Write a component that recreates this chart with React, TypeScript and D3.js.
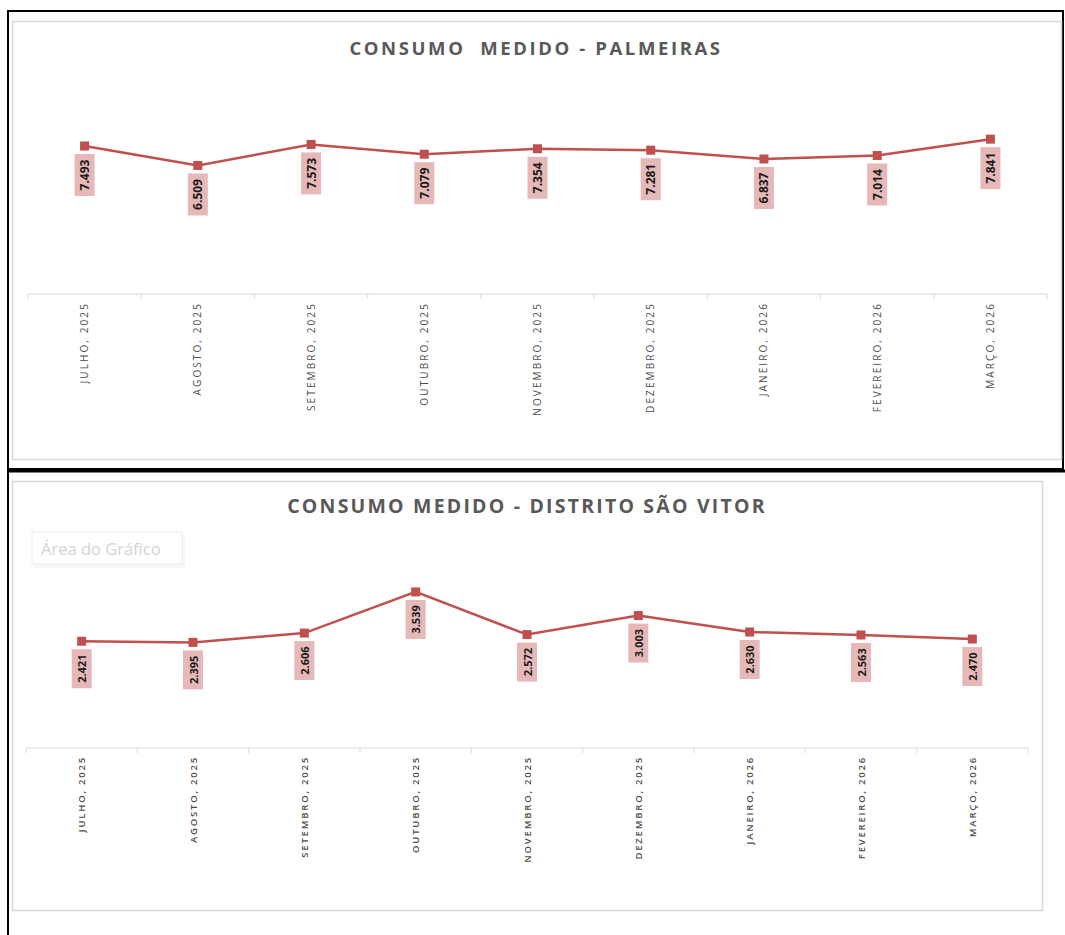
import React from "react";
import * as d3 from "d3";

const categories = [
  "JULHO, 2025",
  "AGOSTO, 2025",
  "SETEMBRO, 2025",
  "OUTUBRO, 2025",
  "NOVEMBRO, 2025",
  "DEZEMBRO, 2025",
  "JANEIRO, 2026",
  "FEVEREIRO, 2026",
  "MARÇO, 2026",
];

const palmeirasValues = [7493, 6509, 7573, 7079, 7354, 7281, 6837, 7014, 7841];
const saoVitorValues = [2421, 2395, 2606, 3539, 2572, 3003, 2630, 2563, 2470];

const titleTop = "CONSUMO  MEDIDO - PALMEIRAS";
const titleBottom = "CONSUMO MEDIDO - DISTRITO SÃO VITOR";

const locale = d3.formatLocale({ decimal: ",", thousands: ".", grouping: [3], currency: ["R$", ""] });
const fmt = locale.format(",d");

const LINE = "#c0504d";
const LABEL_BG = "#e6b9b8";

type PanelProps = {
  values: number[];
  x0: number;
  x1: number;
  yZero: number;
  yTop: number;
  yMax: number;
  labelFont: number;
  boxH: number;
  catFont: number;
  catSpacing: number;
  catWeight: number;
};

function Series({ values, x0, x1, yZero, yTop, yMax, labelFont, boxH, catFont, catSpacing, catWeight }: PanelProps) {
  const x = d3.scaleBand<string>().domain(categories).range([x0, x1]).padding(0);
  const y = d3.scaleLinear().domain([0, yMax]).range([yZero, yTop]);
  const cx = (c: string) => (x(c) as number) + x.bandwidth() / 2;
  const line = d3
    .line<number>()
    .x((_, i) => cx(categories[i]))
    .y((d) => y(d));
  const boundaries = categories.map((c) => x(c) as number).concat([x1]);
  return (
    <g>
      <line x1={x0} x2={x1} y1={yZero} y2={yZero} stroke="#d9d9d9" strokeWidth={1.2} />
      {boundaries.map((b, i) => (
        <line key={i} x1={b} x2={b} y1={yZero} y2={yZero + 5} stroke="#d9d9d9" strokeWidth={1} />
      ))}
      {categories.map((c) => (
        <text
          key={c}
          transform={`translate(${cx(c) + 3.5},${yZero + 8}) rotate(-90)`}
          textAnchor="end"
          fontFamily="'Open Sans', sans-serif"
          fontSize={catFont}
          fontWeight={catWeight}
          letterSpacing={catSpacing}
          fill="#4d4d4d"
        >
          {c}
        </text>
      ))}
      <path d={line(values) || ""} fill="none" stroke={LINE} strokeWidth={2.5} />
      {values.map((v, i) => {
        const px = cx(categories[i]);
        const py = y(v);
        return (
          <g key={i}>
            <rect x={px - 4.5} y={py - 4.5} width={9} height={9} fill={LINE} />
            <rect x={px - 10} y={py + 8} width={20} height={boxH} fill={LABEL_BG} />
            <text
              transform={`translate(${px + 4.5},${py + 8 + boxH / 2}) rotate(-90)`}
              textAnchor="middle"
              fontFamily="'Open Sans', sans-serif"
              fontWeight={700}
              fontSize={labelFont}
              fill="#1a1a1a"
            >
              {fmt(v)}
            </text>
          </g>
        );
      })}
    </g>
  );
}

export default function App() {
  return (
    <div style={{ position: "absolute", left: 0, top: 0 }}>
      <svg width={1065} height={935} style={{ display: "block", background: "#ffffff" }}>
        {/* top panel frame */}
        <rect x={8} y={11} width={1055} height={458} fill="#fff" stroke="#000" strokeWidth={2} />
        <rect x={12.5} y={21.5} width={1049} height={438} fill="#fff" stroke="#d9d9d9" strokeWidth={1.5} />
        <text
          x={536}
          y={55}
          textAnchor="middle"
          fontFamily="'Open Sans', sans-serif"
          fontWeight={700}
          fontSize={18.5}
          letterSpacing={2.6}
          fill="#595959"
          style={{ whiteSpace: "pre" }}
        >
          {titleTop}
        </text>
        <Series
          values={palmeirasValues}
          x0={28}
          x1={1047}
          yZero={294}
          yTop={57}
          yMax={12000}
          labelFont={12}
          boxH={42}
          catFont={10}
          catSpacing={2.1}
          catWeight={400}
        />

        {/* bottom panel frame */}
        <line x1={7} x2={1065} y1={471} y2={471} stroke="#000" strokeWidth={3} />
        <line x1={8} x2={8} y1={470} y2={935} stroke="#000" strokeWidth={2} />
        <rect x={12.5} y={481.5} width={1030} height={429} fill="#fff" stroke="#d9d9d9" strokeWidth={1.5} />
        <text
          x={527}
          y={513}
          textAnchor="middle"
          fontFamily="'Open Sans', sans-serif"
          fontWeight={700}
          fontSize={19.5}
          letterSpacing={2.2}
          fill="#595959"
        >
          {titleBottom}
        </text>
        {/* tooltip "Área do Gráfico" */}
        <rect x={35} y={536} width={150} height={32} fill="#f3f3f3" opacity={0.7} />
        <rect x={32} y={532} width={150} height={32} fill="#fff" stroke="#ececec" strokeWidth={1} />
        <text x={41} y={555} fontFamily="'Open Sans', sans-serif" fontSize={16.5} fill="#d4d4d4">
          Área do Gráfico
        </text>
        <Series
          values={saoVitorValues}
          x0={26}
          x1={1028}
          yZero={748}
          yTop={527.5}
          yMax={5000}
          labelFont={11}
          boxH={39}
          catFont={9.5}
          catSpacing={1.8}
          catWeight={600}
        />
      </svg>
    </div>
  );
}
